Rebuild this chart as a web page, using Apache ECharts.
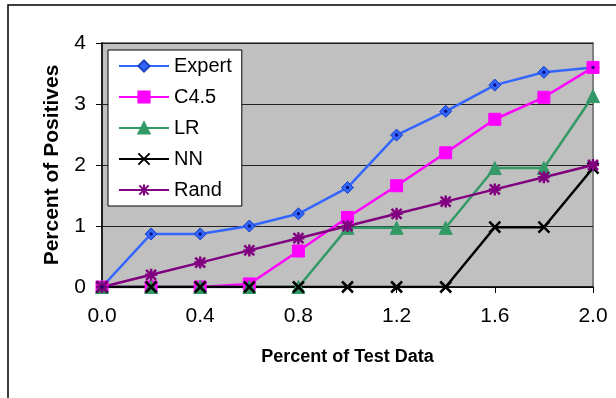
<!DOCTYPE html>
<html>
<head>
<meta charset="utf-8">
<script src="https://cdn.jsdelivr.net/npm/echarts@6/dist/echarts.min.js"></script>
<style>
  html, body { margin: 0; padding: 0; background: #fff; }
  #chart { width: 616px; height: 398px; }
</style>
</head>
<body>
<div id="chart"></div>
<script>
// Percent of test data (x) against percent of positives found (y)
const testData = [0.0, 0.2, 0.4, 0.6, 0.8, 1.0, 1.2, 1.4, 1.6, 1.8, 2.0];
const expert = [0, 0.87, 0.87, 1.0, 1.2, 1.63, 2.49, 2.88, 3.31, 3.52, 3.6];
const c45    = [0, 0, 0, 0.05, 0.59, 1.14, 1.66, 2.2, 2.75, 3.11, 3.6];
const lr     = [0, 0, 0, 0, 0, 0.97, 0.97, 0.97, 1.95, 1.95, 3.13];
const nn     = [0, 0, 0, 0, 0, 0, 0, 0, 0.98, 0.98, 1.95];
const rand   = [0, 0.2, 0.4, 0.6, 0.8, 1.0, 1.2, 1.4, 1.6, 1.8, 2.0];
const seriesNames = ['Expert', 'C4.5', 'LR', 'NN', 'Rand'];

const pairs = ys => testData.map((x, i) => [x, ys[i]]);

const crossPath = 'path://M0,0L10,10M10,0L0,10';
const starPath = 'path://M0,0L10,10M10,0L0,10M5,-1L5,11M-1,5L11,5';

const FONT = '"Liberation Sans", Arial, sans-serif';

function lineSeries(name, data, color, symbol, size, extra) {
  return Object.assign({
    name: name,
    type: 'line',
    data: pairs(data),
    symbol: symbol,
    symbolSize: size,
    lineStyle: { color: color, width: 2.5 },
    itemStyle: { color: color, borderColor: color, borderWidth: 1 },
    z: 3,
    animation: false
  }, extra || {});
}

const chart = echarts.init(document.getElementById('chart'), null, { renderer: 'canvas' });
chart.setOption({
  backgroundColor: '#ffffff',
  animation: false,
  textStyle: { fontFamily: FONT },
  graphic: [{
    type: 'rect',
    shape: { x: 8, y: 5, width: 700, height: 500 },
    style: { fill: 'none', stroke: '#000', lineWidth: 1.5 },
    z: -10
  }],
  grid: {
    left: 102, right: 23, top: 43, bottom: 111,
    show: true,
    backgroundColor: '#c0c0c0',
    borderColor: '#808080',
    borderWidth: 2
  },
  legend: {
    orient: 'vertical',
    left: 108, top: 50,
    data: seriesNames,
    backgroundColor: '#ffffff',
    borderColor: '#000',
    borderWidth: 1,
    borderRadius: 0,
    padding: [6, 10, 6, 10],
    itemWidth: 50,
    itemHeight: 14,
    itemGap: 11,
    textStyle: { fontSize: 20, lineHeight: 20, color: '#000', fontFamily: FONT }
  },
  xAxis: {
    type: 'value',
    min: 0, max: 2.0, interval: 0.4,
    name: 'Percent of Test Data',
    nameLocation: 'middle',
    nameGap: 61,
    nameTextStyle: { fontSize: 18, fontWeight: 'bold', color: '#000', fontFamily: FONT },
    axisLine: { show: true, lineStyle: { color: '#000', width: 1.5 } },
    axisTick: { show: true, length: 6, inside: false, lineStyle: { color: '#000' } },
    axisLabel: { fontSize: 21, color: '#000', margin: 19, formatter: v => v.toFixed(1), fontFamily: FONT },
    splitLine: { show: false }
  },
  yAxis: {
    type: 'value',
    min: 0, max: 4, interval: 1,
    name: 'Percent of Positives',
    nameLocation: 'middle',
    nameGap: 39,
    nameTextStyle: { fontSize: 21, fontWeight: 'bold', color: '#000', fontFamily: FONT },
    axisLine: { show: true, lineStyle: { color: '#000', width: 1.5 } },
    axisTick: { show: true, length: 6, lineStyle: { color: '#000' } },
    axisLabel: { fontSize: 21, color: '#000', margin: 16, fontFamily: FONT },
    splitLine: { show: true, lineStyle: { color: '#222', width: 1 } }
  },
  series: [
    lineSeries('Expert', expert, '#3366ff', 'diamond', 12, { itemStyle: { color: '#3366ff', borderColor: '#1a3fbf', borderWidth: 1 } }),
    lineSeries('C4.5', c45, '#ff00ff', 'rect', 12),
    lineSeries('LR', lr, '#339966', 'triangle', 13),
    lineSeries('NN', nn, '#000000', crossPath, 11, {
      itemStyle: { color: 'none', borderColor: '#000', borderWidth: 2.5 }
    }),
    lineSeries('Rand', rand, '#800080', starPath, 12, {
      itemStyle: { color: 'none', borderColor: '#800080', borderWidth: 2.5 }
    }),
    {
      // small dark centre dots on the Expert diamonds
      type: 'scatter',
      data: pairs(expert),
      symbol: 'circle',
      symbolSize: 3.5,
      itemStyle: { color: '#000066' },
      silent: true,
      z: 4,
      animation: false
    }
  ]
});
</script>
</body>
</html>
